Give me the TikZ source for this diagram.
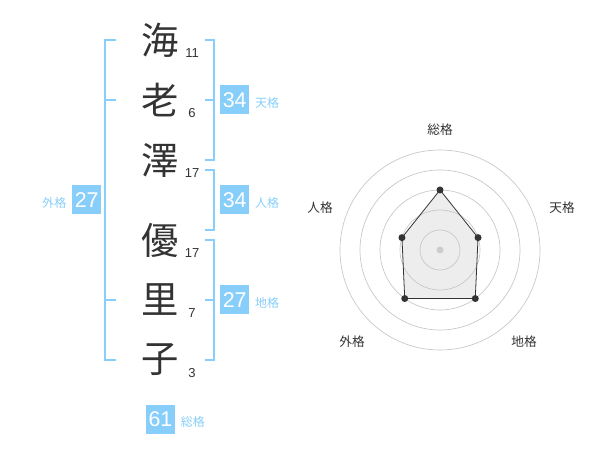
\documentclass[tikz,border=0pt]{standalone}
\usepackage{fontspec}
\setmainfont{Liberation Sans}
\newfontfamily\jp{Noto Sans CJK JP}
\usetikzlibrary{positioning}
\definecolor{sky}{HTML}{87CEFA}
\definecolor{ink}{HTML}{333333}
\def\cx{440}
\def\cy{250}

\begin{document}
\begin{tikzpicture}[x=0.75pt, y=-0.75pt,
  kanji/.style={font=\jp\fontsize{28}{28}\selectfont, text=ink, inner sep=0pt},
  strokes/.style={font=\fontsize{9.75}{10}\selectfont, text=ink, inner sep=0pt},
  score/.style={fill=sky, text=white, font=\fontsize{16}{16}\selectfont,
    minimum size=21.75pt, inner sep=0pt},
  kaku/.style={font=\jp\fontsize{9}{9}\selectfont, text=sky, inner sep=0pt},
  axis/.style={font=\jp\fontsize{9.5}{9.5}\selectfont, text=ink, inner sep=0pt},
  bracket/.style={draw=sky, line width=0.9pt},
  ring/.style={draw=black!22, line width=0.5pt}]
\useasboundingbox (0,0) rectangle (600,470);
% Name and stroke counts
\foreach \ch/\n/\y [count=\i] in {海/11/40, 老/6/100, 澤/17/160, 優/17/240, 里/7/300, 子/3/360} {
  \node[kanji] (k\i) at (160,\y) {\ch};
  \node[strokes] (s\i) at (192,\y+13) {\n};
}
% Brackets
\draw[bracket] (116,40) -- (105,40) -- (105,360) -- (116,360);
\foreach \y in {100,300} \draw[bracket] (105,\y) -- (116,\y);
\draw[bracket] (205,40) -- (214,40) -- (214,160) -- (205,160);
\draw[bracket] (205,170) -- (214,170) -- (214,230) -- (205,230);
\draw[bracket] (205,240) -- (214,240) -- (214,360) -- (205,360);
\foreach \y in {100,300} \draw[bracket] (205,\y) -- (214,\y);
% Scores
\node[score] (ten) at (234.7,100) {34};
\node[kaku, base right=4pt of ten] (tenlab) {天格};
\node[score] (jin) at (234.7,200) {34};
\node[kaku, base right=4pt of jin] (jinlab) {人格};
\node[score] (chi) at (234.7,300) {27};
\node[kaku, base right=4pt of chi] (chilab) {地格};
\node[score] (gai) at (86.7,200) {27};
\node[kaku, base left=4pt of gai] (gailab) {外格};
\node[score] (sou) at (160.5,419.5) {61};
\node[kaku, base right=4pt of sou] (soulab) {総格};
% Radar
\coordinate (c) at (\cx,\cy);
\foreach \a/\r [count=\i] in {90/60, 18/40, -54/60, -126/60, 162/40}
  \path (c) ++(-\a:\r) coordinate (p\i);
\fill[black!7] (p1) -- (p2) -- (p3) -- (p4) -- (p5) -- cycle;
\foreach \r in {20,40,...,100} \draw[ring] (c) circle[radius=\r];
\fill[black!20] (c) circle[radius=3.5];
\draw[ink, line width=0.6pt] (p1) -- (p2) -- (p3) -- (p4) -- (p5) -- cycle;
\foreach \i in {1,...,5} \fill[ink] (p\i) circle[radius=3.5];
% Axis labels
\node[axis] (ax1) at (440,130) {総格};
\node[axis] (ax2) at (562,208) {天格};
\node[axis] (ax3) at (524,342) {地格};
\node[axis] (ax4) at (352,342) {外格};
\node[axis] (ax5) at (320,208) {人格};
\end{tikzpicture}
\end{document}
